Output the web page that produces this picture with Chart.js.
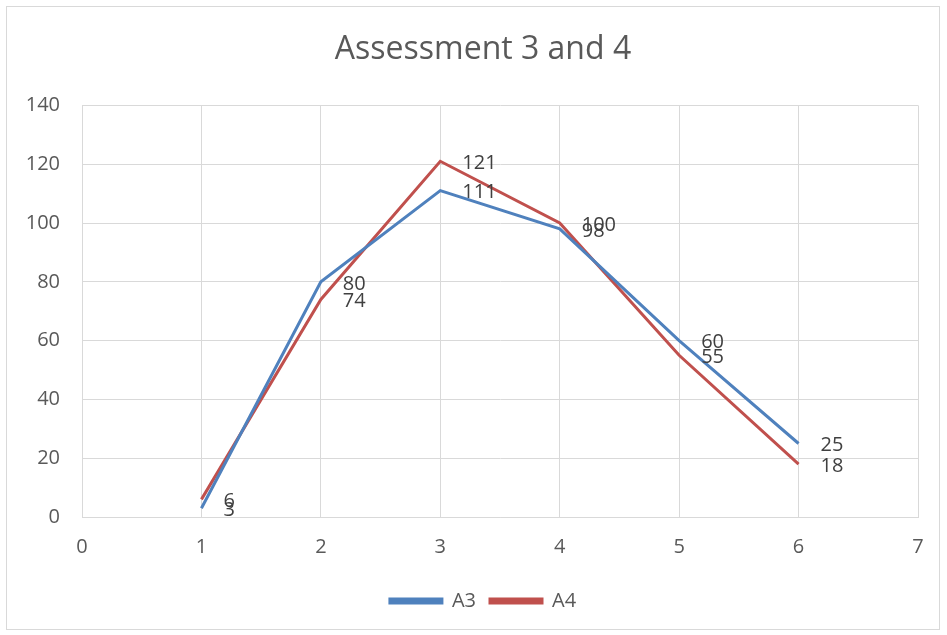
<!DOCTYPE html>
<html>
<head>
<meta charset="utf-8">
<script src="https://cdn.jsdelivr.net/npm/chart.js@4/dist/chart.umd.min.js"></script>
<style>
  html, body { margin: 0; padding: 0; background: #fff; }
  #wrap { position: relative; width: 947px; height: 635px; }
  #frame { position: absolute; left: 6px; top: 6px; width: 934px; height: 624px; border: 1px solid #d9d9d9; box-sizing: border-box; pointer-events: none; }
</style>
</head>
<body>
<div id="wrap">
  <canvas id="myChart" width="947" height="635"></canvas>
  <div id="frame"></div>
</div>
<script>
// setup block
const xValues = [1, 2, 3, 4, 5, 6];
const a3Values = [3, 80, 111, 98, 60, 25];
const a4Values = [6, 74, 121, 100, 55, 18];

const toPoints = (ys) => xValues.map((x, i) => ({ x: x, y: ys[i] }));

const data = {
  datasets: [
    {
      label: "A3",
      data: toPoints(a3Values),
      borderColor: "#4F81BD",
      backgroundColor: "#4F81BD",
      borderWidth: 3,
      showLine: true,
      pointRadius: 0,
    },
    {
      label: "A4",
      data: toPoints(a4Values),
      borderColor: "#C0504D",
      backgroundColor: "#C0504D",
      borderWidth: 3,
      showLine: true,
      pointRadius: 0,
    },
  ],
};

// plugin - value labels to the right of every point
const valueLabels = {
  id: "valueLabels",
  afterDatasetsDraw: (chart) => {
    const { ctx } = chart;
    ctx.save();
    ctx.font = "20px 'Open Sans', sans-serif";
    ctx.fillStyle = "#404040";
    ctx.textAlign = "left";
    ctx.textBaseline = "middle";
    chart.data.datasets.forEach((dataset, index) => {
      chart.getDatasetMeta(index).data.forEach((pt, i) => {
        ctx.fillText(dataset.data[i].y, pt.x + 22, pt.y + 2);
      });
    });
    ctx.restore();
  },
};

// plugin - nudge title and legend right so they centre like the original
const nudgeBoxes = {
  id: "nudgeBoxes",
  afterLayout: (chart) => {
    [chart.titleBlock, chart.legend].forEach((box) => {
      if (box) {
        box.left += 21;
        box.right += 21;
      }
    });
  },
};

const gridColor = "#d9d9d9";
const tickColor = "#595959";
const fontFamily = "'Open Sans', sans-serif";

// config block
const config = {
  type: "scatter",
  data: data,
  options: {
    responsive: false,
    animation: false,
    layout: {
      padding: { left: 6, right: 29, top: 31, bottom: 14 },
    },
    scales: {
      x: {
        type: "linear",
        min: 0,
        max: 7,
        ticks: { stepSize: 1, color: tickColor, font: { size: 20, family: fontFamily }, padding: 18 },
        grid: { color: gridColor, lineWidth: 1, drawTicks: false },
        border: { color: gridColor },
        afterFit: (scale) => { scale.height = 60; },
      },
      y: {
        min: 0,
        max: 140,
        ticks: { stepSize: 20, color: tickColor, font: { size: 20, family: fontFamily }, padding: 22 },
        grid: { color: gridColor, lineWidth: 1, drawTicks: false },
        border: { color: gridColor },
        afterFit: (scale) => { scale.width = 76; },
      },
    },
    plugins: {
      title: {
        display: true,
        text: "Assessment 3 and 4",
        color: tickColor,
        font: { size: 32, weight: "normal", family: fontFamily },
        padding: { top: 0, bottom: 36 },
      },
      legend: {
        position: "bottom",
        labels: {
          color: tickColor,
          font: { size: 20, family: fontFamily },
          boxWidth: 52,
          boxHeight: 4,
          padding: 14,
        },
      },
      tooltip: { enabled: false },
    },
  },
  plugins: [valueLabels, nudgeBoxes],
};

// render init block
const myChart = new Chart(document.getElementById("myChart"), config);
</script>
</body>
</html>
